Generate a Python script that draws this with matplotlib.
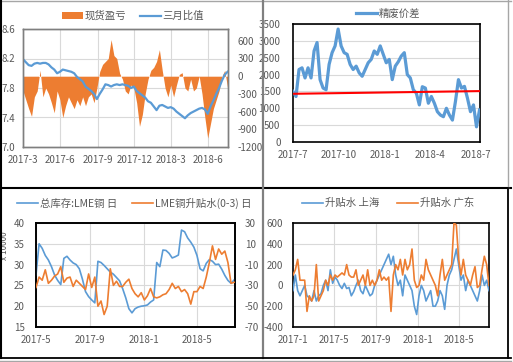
import numpy as np
import pandas as pd
import matplotlib
matplotlib.use('Agg')
import matplotlib.pyplot as plt
import matplotlib.dates as mdates
from matplotlib.lines import Line2D
from matplotlib.patches import Patch
from matplotlib.ticker import FuncFormatter, FixedLocator

plt.rcParams['font.family'] = ['Noto Sans CJK SC', 'DejaVu Sans']
plt.rcParams['axes.unicode_minus'] = False

# ---- 图1: 现货盈亏 / 三月比值 (周度, 2017-03-01 ~ 2018-07-19)
spot_pnl = [-250, -400, -550, -680, -350, -250, 100, -350, -200, -300,
            -450, -620, -250, -400, -700, -500, -350, -450, -550, -400,
            -500, -350, -500, -350, -300, -450, -200, 80, 200, 250,
            300, 620, 350, 300, 50, -50, -250, -300, -150, -200,
            -450, -850, -650, -300, -50, 100, 150, 250, 450, 100,
            -200, -350, -150, -350, -150, 30, 60, -200, -250, -50,
            -250, -200, 0, -300, -700, -1050, -800, -550, -400, -250,
            0, 100, -200]
ratio_3m = [8.19, 8.15, 8.11, 8.10, 8.13, 8.14, 8.13, 8.14, 8.14, 8.12,
            8.08, 8.05, 8.00, 8.02, 8.05, 8.04, 8.03, 8.02, 8.00, 7.95,
            7.92, 7.89, 7.82, 7.79, 7.76, 7.72, 7.65, 7.72, 7.78, 7.85,
            7.84, 7.82, 7.84, 7.85, 7.84, 7.85, 7.84, 7.83, 7.80, 7.82,
            7.76, 7.73, 7.70, 7.67, 7.62, 7.60, 7.55, 7.50, 7.56, 7.57,
            7.55, 7.53, 7.54, 7.52, 7.48, 7.45, 7.42, 7.39, 7.43, 7.46,
            7.48, 7.50, 7.52, 7.53, 7.51, 7.45, 7.55, 7.63, 7.72, 7.80,
            7.90, 7.98, 8.02]

# ---- 图2: 精废价差 (2017-07-01 ~ 2018-07-08)
scrap_spread = [1500, 1350, 2150, 2200, 1900, 2200, 1900, 2700, 2950, 1850,
                1600, 1550, 2300, 2650, 2850, 3350, 2850, 2650, 2600, 2300,
                2150, 2250, 2050, 1950, 2150, 2350, 2450, 2700, 2600, 2850,
                2600, 2350, 2450, 1850, 2250, 2380, 2550, 2650, 2000, 1900,
                1550, 1450, 1100, 1640, 1600, 1150, 1350, 1150, 900, 800,
                750, 1000, 800, 650, 1200, 1850, 1600, 1650, 1300, 900,
                1100, 450, 950]
trend_line = [1430, 1510]

# ---- 图3: 总库存:LME铜 / LME铜升贴水(0-3) (2017-05-01 ~ 2018-07-24)
lme_stock = [27.5, 35.0, 33.9, 32.2, 31.1, 29.5, 27.5, 26.2, 25.2, 31.5,
             32.0, 31.1, 30.4, 30.0, 29.0, 26.5, 23.5, 22.3, 21.5, 20.8,
             30.8, 30.5, 29.8, 29.0, 28.2, 27.7, 26.9, 26.1, 24.2, 22.0,
             19.4, 18.4, 19.4, 19.8, 20.0, 20.1, 20.3, 21.0, 21.5, 30.5,
             29.5, 33.5, 33.4, 32.7, 31.6, 31.9, 32.3, 38.3, 37.9, 36.4,
             35.4, 34.2, 32.2, 29.0, 28.5, 30.3, 31.2, 30.8, 30.0, 30.1,
             28.9, 27.4, 26.2, 25.5, 26.3]
lme_spread = [-32, -22, -25, -15, -28, -25, -21, -19, -12, -27,
              -23, -22, -31, -25, -28, -31, -34, -19, -32, -22,
              -50, -45, -58, -50, -14, -30, -26, -31, -31, -27,
              -24, -33, -38, -41, -37, -44, -40, -33, -41, -42,
              -41, -39, -38, -34, -28, -33, -31, -36, -34, -38,
              -48, -36, -36, -31, -33, -22, -8, 8, -5, 5,
              0, 3, -8, -28, -27]

# ---- 图4: 升贴水 上海 / 广东 (2017-01-01 ~ 2018-07-28)
prem_sh = [-50, 100, -50, -100, -50, 0, -100, -120, -150, -50,
           -150, -100, -80, 0, 50, -50, 150, 20, 80, 50,
           0, -30, 20, -30, -20, -100, -60, 0, 50, -50,
           -80, 0, -50, -100, -80, 0, 50, 100, 150, 200,
           250, 300, 200, 280, 100, 0, 50, -100, 100, 50,
           0, -50, -200, -280, -100, 0, -50, -150, -100, -50,
           -200, -200, -150, -50, -100, -230, 0, 100, 150, 250,
           350, 200, 50, 100, -50, 50, 0, -50, -100, -150,
           -50, 100, 0, 50, -50]
prem_gd = [100, 150, 250, 50, 50, 50, -250, -100, -150, -100,
           200, -150, -100, -50, 50, 0, 100, 50, 100, 80,
           100, 120, 100, 200, 100, 80, 80, 150, 0, 50,
           100, 0, 150, 0, 50, 0, 50, 150, 50, 80,
           50, 80, -250, 100, 200, 150, 250, 100, 250, 150,
           200, 350, 50, -20, 0, 100, 50, 250, 150, 100,
           50, 0, -100, 100, 250, 50, 100, 150, 200, 600,
           580, 250, 100, 250, 100, 50, 0, 100, 180, -20,
           0, 150, 280, 200, 0]

ORANGE = '#ED7D31'
BLUE = '#5B9BD5'
GREY = '#595959'
GRID = '#D9D9D9'
W, H = 513, 362

fig = plt.figure(figsize=(W / 100, H / 100), dpi=100)


def make_ax(l, t, r, b):
    return fig.add_axes([l / W, 1 - b / H, (r - l) / W, (b - t) / H])


def fmt_month(x, pos):
    d = mdates.num2date(x)
    return f"{d.year}-{d.month}"


def date_axis(ax, ticks, start, end):
    ax.set_xlim(pd.Timestamp(start), pd.Timestamp(end))
    ax.xaxis.set_major_locator(FixedLocator(mdates.date2num(pd.to_datetime(ticks))))
    ax.xaxis.set_major_formatter(FuncFormatter(fmt_month))


def style(ax, spine_color, lw):
    for s in ax.spines.values():
        s.set_color(spine_color)
        s.set_linewidth(lw)
    ax.tick_params(length=0, labelsize=7, colors=GREY, pad=6)


def legend_at(handles, labels, cx, cy, spacing):
    fig.legend(handles, labels, loc='center', bbox_to_anchor=(cx / W, 1 - cy / H),
               ncol=len(handles), frameon=False, fontsize=7.5, labelcolor=GREY,
               handlelength=2.0, handletextpad=0.2, columnspacing=spacing,
               borderaxespad=0, borderpad=0)


# ---------- 图1
ax1 = make_ax(23, 29, 228, 147)
d1 = pd.date_range('2017-03-01', '2018-07-19', periods=len(spot_pnl))
ax1r = ax1.twinx()
ax1r.fill_between(d1, 0, spot_pnl, color=ORANGE, lw=0)
ax1r.set_ylim(-1200, 800)
ax1r.set_yticks(np.arange(-1200, 601, 300))
ax1.set_zorder(ax1r.get_zorder() + 1)
ax1.patch.set_visible(False)
ax1.plot(d1, ratio_3m, color=BLUE, lw=1.6)
ax1.set_ylim(7.0, 8.6)
ax1.set_yticks([7.0, 7.4, 7.8, 8.2, 8.6])
ax1.yaxis.set_major_formatter(FuncFormatter(lambda v, p: f"{v:.1f}"))
date_axis(ax1, ['2017-03-01', '2017-06-01', '2017-09-01', '2017-12-01',
                '2018-03-01', '2018-06-01'], '2017-03-01', '2018-07-20')
ax1r.grid(False)
for y in [7.4, 7.8, 8.2, 8.6]:
    ax1r.axhline(-1200 + (y - 7.0) / 1.6 * 2000, color=GRID, lw=0.8, zorder=0)
for t in ax1.get_xticks()[1:]:
    ax1r.axvline(t, color=GRID, lw=0.8, zorder=0)
style(ax1, '#7F7F7F', 1.0)
style(ax1r, '#7F7F7F', 1.0)
ax1.tick_params(axis='y', pad=5.5)
ax1r.tick_params(axis='y', pad=7)
legend_at([Patch(facecolor=ORANGE, edgecolor='none'), Line2D([], [], color=BLUE, lw=1.6)],
          ['现货盈亏', '三月比值'], 133, 16, 1.3)

# ---------- 图2
ax2 = make_ax(293, 24, 480, 142)
d2 = pd.date_range('2017-07-01', '2018-07-08', periods=len(scrap_spread))
ax2.plot(d2, scrap_spread, color=BLUE, lw=2.3, zorder=3)
ax2.plot(pd.to_datetime(['2017-07-01', '2018-07-09']), trend_line, color='#FF0000', lw=1.5, zorder=4)
ax2.set_ylim(0, 3500)
ax2.set_yticks(np.arange(0, 3501, 500))
ax2.grid(axis='y', color=GRID, lw=0.8)
ax2.set_axisbelow(True)
date_axis(ax2, ['2017-07-01', '2017-10-01', '2018-01-01', '2018-04-01', '2018-07-01'],
          '2017-07-01', '2018-07-09')
style(ax2, 'black', 1.2)
ax2.tick_params(axis='y', pad=9)
legend_at([Line2D([], [], color=BLUE, lw=2.3)], ['精废价差'], 388, 14, 1.0)

# ---------- 图3
ax3 = make_ax(36, 223, 235, 327)
d3 = pd.date_range('2017-05-01', '2018-07-24', periods=len(lme_stock))
ax3r = ax3.twinx()
ax3.plot(d3, lme_stock, color=BLUE, lw=1.2, zorder=3)
ax3r.plot(d3, lme_spread, color=ORANGE, lw=1.2, zorder=3)
ax3.set_ylim(15, 40)
ax3.set_yticks(np.arange(15, 41, 5))
ax3r.set_ylim(-70, 30)
ax3r.set_yticks(np.arange(-70, 31, 20))
date_axis(ax3, ['2017-05-01', '2017-09-01', '2018-01-01', '2018-05-01'],
          '2017-05-01', '2018-07-26')
ax3.grid(color=GRID, lw=0.8)
ax3.set_axisbelow(True)
style(ax3, 'black', 1.2)
style(ax3r, 'black', 1.2)
ax3.tick_params(axis='y', pad=8)
ax3r.tick_params(axis='y', pad=7)
ax3.set_ylabel('x 10000', fontsize=6, color=GREY)
ax3.yaxis.set_label_coords(-0.135, 0.78)
legend_at([Line2D([], [], color=BLUE, lw=1.2), Line2D([], [], color=ORANGE, lw=1.2)],
          ['总库存:LME铜 日', 'LME铜升贴水(0-3) 日'], 134, 203, 1.4)

# ---------- 图4
ax4 = make_ax(293, 223, 489, 327)
d4 = pd.date_range('2017-01-01', '2018-07-28', periods=len(prem_sh))
ax4.plot(d4, prem_sh, color=BLUE, lw=1.2, zorder=3)
ax4.plot(d4, prem_gd, color=ORANGE, lw=1.2, zorder=3)
ax4.set_ylim(-400, 600)
ax4.set_yticks(np.arange(-400, 601, 200))
date_axis(ax4, ['2017-01-01', '2017-05-01', '2017-09-01', '2018-01-01', '2018-05-01'],
          '2017-01-01', '2018-07-28')
ax4.grid(color=GRID, lw=0.8)
ax4.set_axisbelow(True)
style(ax4, 'black', 1.2)
ax4.tick_params(axis='y', pad=7)
legend_at([Line2D([], [], color=BLUE, lw=1.2), Line2D([], [], color=ORANGE, lw=1.2)],
          ['升贴水 上海', '升贴水 广东'], 388, 203, 1.7)

# ---------- 外框与分隔线
def fline(x0, y0, x1, y1, color, lw):
    fig.add_artist(Line2D([x0 / W, x1 / W], [1 - y0 / H, 1 - y1 / H], color=color, lw=lw))

fline(0, 1, 511, 1, '#A6A6A6', 1.0)
fline(1, 0, 1, 358, 'black', 1.5)
fline(0, 188, 511, 188, 'black', 1.5)
fline(263, 0, 263, 358, '#808080', 1.6)
fline(508, 0, 508, 188, '#A6A6A6', 1.0)
fline(508, 188, 508, 358, 'black', 1.3)
fline(0, 357.5, 511, 357.5, 'black', 1.3)
fline(0, 360.5, 511, 360.5, '#A6A6A6', 1.0)

fig.savefig('out.png', dpi=100)
